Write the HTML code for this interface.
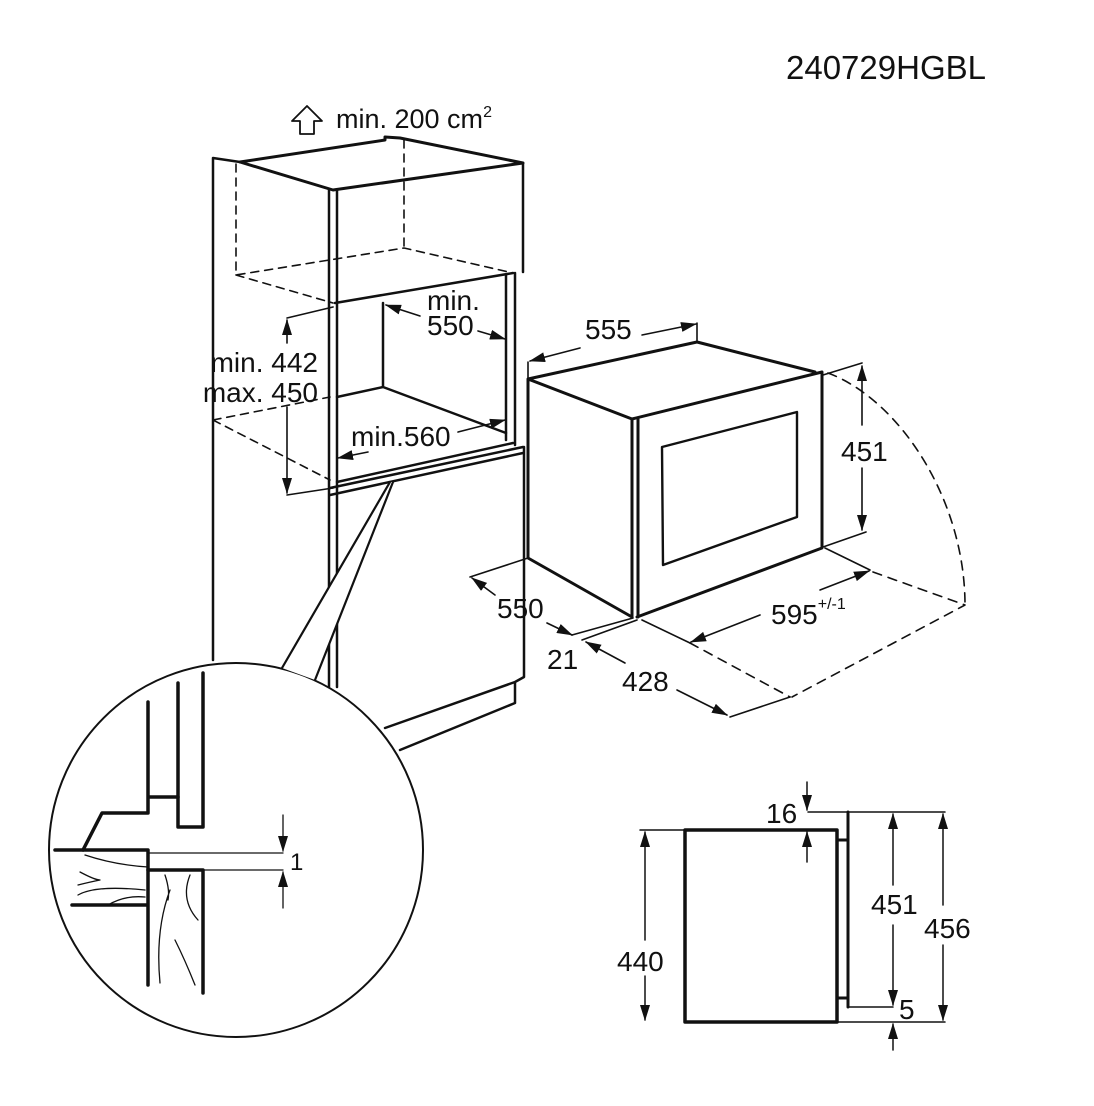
<!DOCTYPE html>
<html><head><meta charset="utf-8"><style>
html,body{margin:0;padding:0;background:#fff}
svg{display:block}
text{font-family:"Liberation Sans",Arial,sans-serif;fill:#111}
</style></head><body>
<svg width="1094" height="1106" viewBox="0 0 1094 1106" xmlns="http://www.w3.org/2000/svg">
<defs>
<marker id="a" markerWidth="16" markerHeight="10" refX="15" refY="5" orient="auto" markerUnits="userSpaceOnUse">
<path d="M0,0 L16,5 L0,10 Z" fill="#111"/></marker>
</defs>
<g stroke="#111" fill="none" stroke-linecap="round" stroke-linejoin="round">
<g stroke-width="2.5">
<path d="M213,660 V158 L240,162"/>
<path d="M240,162 L333,190 L523,163 L400,138 L385,137 L385,140 L240,162" stroke-width="3"/>
<path d="M329,190 V687 M337,190 V687"/>
<path d="M523,163 V272 M335,303 L513,273"/>
<path d="M506,275 V440 M515,273 V445"/>
<path d="M383,303 V387 L337,397 M383,387 L506,433"/>
<path d="M337,482 L513,443 M330,488 L523,447 M330,495 L523,453"/>
<path d="M524,447 V677 L515,682 L385,728 M515,682 V703 L400,750"/>
</g>
<g stroke-width="1.6" stroke-dasharray="8,6">
<path d="M236,164 V275 L404,248 L513,273 M404,140 V248 M236,275 L333,303"/>
<path d="M213,420 L330,397 M213,420 L330,480"/>
</g>
<g stroke-width="1.6">
<path d="M287,318 L333,307 M287,495 L333,488"/>
<path d="M287,343 V320" marker-end="url(#a)"/>
<path d="M287,407 V493" marker-end="url(#a)"/>
<path d="M420,316 L386,305" marker-end="url(#a)"/>
<path d="M478,331 L505,339" marker-end="url(#a)"/>
<path d="M458,432 L505,420" marker-end="url(#a)"/>
<path d="M368,452 L338,458" marker-end="url(#a)"/>
</g>
<circle cx="236" cy="850" r="187" stroke-width="2" fill="#fff"/>
<path d="M282,668 L390,482 L393,482 L315,680 Z" fill="#fff" stroke="none"/>
<path d="M282,668 L390,482 M315,680 L393,482" stroke-width="2.2"/>
<g stroke-width="3.5">
<path d="M178,683 V827 H203 V673"/>
<path d="M148,702 V813 H102 L83,850 M148,797 H178"/>
<path d="M55,850 H148 V985 M148,905 H72"/>
<path d="M148,870 H203 V993"/>
</g>
<g stroke-width="1.3">
<path d="M148,853 H283 M203,870 H283"/>
<path d="M283,815 V851" marker-end="url(#a)"/>
<path d="M283,908 V872" marker-end="url(#a)"/>
<path d="M80,872 Q95,880 100,880 Q90,882 78,885 M78,895 Q95,885 145,890 M85,855 Q115,865 148,867 M108,905 Q125,895 145,897"/>
<path d="M160,983 Q155,930 170,890 M175,940 Q185,960 195,985 M190,875 Q180,900 198,920 M165,875 Q170,890 168,900"/>
</g>
<g stroke-width="3">
<path d="M528,379 L697,342 L815,372 M528,379 V558 L632,617 M528,379 L632,419 L822,372 V548 L637,617"/>
<path d="M632,419 V617 M638,419 V617"/>
<path d="M662,447 L797,412 V517 L663,565 Z" stroke-width="2.4"/>
</g>
<g stroke-width="1.6">
<path d="M528,362 V379 M697,323 V342"/>
<path d="M642,335 L696,324" marker-end="url(#a)"/>
<path d="M580,348 L530,361" marker-end="url(#a)"/>
<path d="M823,375 L862,363 M823,547 L866,532"/>
<path d="M862,425 V366" marker-end="url(#a)"/>
<path d="M862,468 V530" marker-end="url(#a)"/>
<path d="M825,548 L870,570 M642,620 L690,643 M730,717 L790,697"/>
<path d="M760,615 L691,642" marker-end="url(#a)"/>
<path d="M820,590 L869,571" marker-end="url(#a)"/>
<path d="M528,558 L470,577"/>
<path d="M495,595 L472,578" marker-end="url(#a)"/>
<path d="M547,623 L572,635" marker-end="url(#a)"/>
<path d="M572,635 L633,618 M582,640 L637,620"/>
<path d="M625,663 L586,642" marker-end="url(#a)"/>
<path d="M677,690 L727,715" marker-end="url(#a)"/>
</g>
<g stroke-width="1.6" stroke-dasharray="9,7">
<path d="M828,373 C900,400 965,500 965,605"/>
<path d="M873,572 L965,605 L792,697 M690,643 L790,697"/>
</g>
<rect x="685" y="830" width="152" height="192" stroke-width="3.5"/>
<g stroke-width="3"><path d="M848,812 V1007 M837,840 H848 M837,998 H848"/></g>
<g stroke-width="1.5">
<path d="M808,812 H945 M685,1022 H945 M848,1007 H893 M640,830 H685"/>
<path d="M645,940 V832" marker-end="url(#a)"/>
<path d="M645,976 V1020" marker-end="url(#a)"/>
<path d="M807,782 V810" marker-end="url(#a)"/>
<path d="M807,862 V832" marker-end="url(#a)"/>
<path d="M893,885 V814" marker-end="url(#a)"/>
<path d="M893,925 V1005" marker-end="url(#a)"/>
<path d="M943,905 V814" marker-end="url(#a)"/>
<path d="M943,945 V1020" marker-end="url(#a)"/>
<path d="M893,1050 V1024" marker-end="url(#a)"/>
</g>
<path d="M307,106 L292,121 H300 V134 H314 V121 H322 Z" stroke-width="1.8"/>
</g>
<g font-size="28">
<text x="786" y="79" font-size="33">240729HGBL</text>
<text x="336" y="128" font-size="27">min. 200 cm<tspan font-size="16" dy="-11">2</tspan></text>
<text x="318" y="372" text-anchor="end">min. 442</text>
<text x="318" y="402" text-anchor="end">max. 450</text>
<text x="427" y="310">min.</text>
<text x="427" y="335">550</text>
<text x="351" y="446">min.560</text>
<text x="585" y="339">555</text>
<text x="841" y="461">451</text>
<text x="771" y="624">595<tspan font-size="16" dy="-15">+/-1</tspan></text>
<text x="497" y="618">550</text>
<text x="547" y="669">21</text>
<text x="622" y="691">428</text>
<text x="290" y="870" font-size="24">1</text>
<text x="617" y="971">440</text>
<text x="766" y="823">16</text>
<text x="871" y="914">451</text>
<text x="924" y="938">456</text>
<text x="899" y="1019">5</text>
</g>
</svg>
</body></html>
